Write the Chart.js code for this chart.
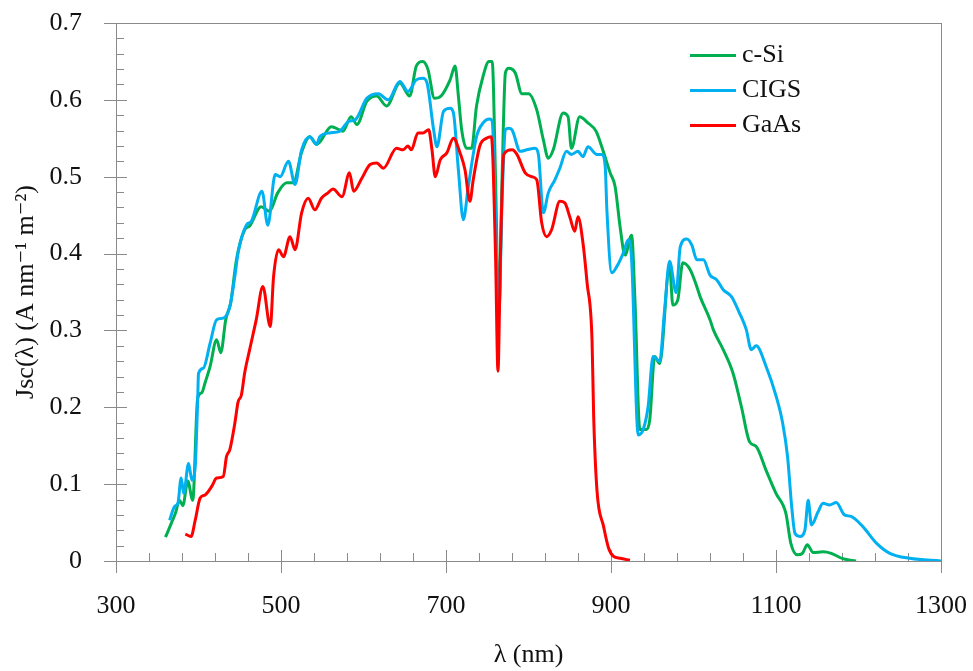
<!DOCTYPE html>
<html>
<head>
<meta charset="utf-8">
<script src="https://cdn.jsdelivr.net/npm/chart.js@4/dist/chart.umd.min.js"></script>
<style>
	body { margin: 0; background: #fff; }
	#wrap { width: 973px; height: 671px; position: relative; }
</style>
</head>
<body>
<div id="wrap"><canvas id="jsc"></canvas></div>
<script>
// wavelength (nm) / Jsc (A nm-1 m-2)
var siWl = [360,367,372,377,381,387,393,399,404,408,414,422,427,433,439,446,456,462,476,486,496,507,515,525,535,543,547,561,571,575,585,592,604,616,628,644,656,664,672,678,686,694,705,711,715,719,725,731,737,745,752,756,760,764,768,772,776,784,792,800,810,818,824,830,842,848,852,862,872,882,890,899,905,911,917,925,929,935,943,947,953,959,971,975,981,987,996,1004,1008,1020,1024,1036,1048,1058,1068,1076,1088,1100,1112,1118,1126,1132,1138,1145,1157,1167,1181,1197];
var siJsc = [0.031,0.049,0.062,0.079,0.072,0.104,0.079,0.212,0.219,0.232,0.253,0.288,0.271,0.314,0.336,0.392,0.431,0.436,0.461,0.455,0.479,0.492,0.492,0.532,0.552,0.542,0.545,0.565,0.561,0.559,0.578,0.568,0.598,0.605,0.592,0.622,0.605,0.644,0.650,0.640,0.602,0.605,0.626,0.644,0.605,0.561,0.537,0.537,0.592,0.631,0.650,0.650,0.50,0.32,0.50,0.635,0.641,0.635,0.608,0.608,0.587,0.548,0.524,0.535,0.583,0.578,0.537,0.578,0.570,0.559,0.535,0.505,0.487,0.435,0.398,0.424,0.340,0.171,0.171,0.184,0.266,0.257,0.383,0.333,0.340,0.388,0.379,0.357,0.344,0.314,0.301,0.275,0.244,0.201,0.155,0.149,0.118,0.088,0.062,0.023,0.008,0.010,0.021,0.011,0.012,0.010,0.003,0.0];

var cigsWl = [365,371,375,379,382,388,392,396,399,400,406,414,422,430,438,444,448,458,464,477,484,493,499,509,517,525,535,543,547,559,571,582,590,604,618,630,644,654,664,672,677,685,689,697,705,709,715,721,727,737,745,753,756,760,764,768,772,776,780,790,798,808,812,818,824,832,838,846,852,860,866,872,883,889,893,895,901,907,915,921,925,933,939,945,951,959,965,971,979,984,992,998,1004,1012,1020,1028,1036,1046,1056,1064,1070,1076,1088,1100,1108,1114,1119,1123,1129,1135,1139,1143,1151,1157,1165,1173,1183,1191,1205,1222,1238,1262,1300];
var cigsJsc = [0.053,0.071,0.075,0.108,0.088,0.127,0.105,0.123,0.21,0.244,0.251,0.283,0.314,0.316,0.331,0.370,0.401,0.437,0.442,0.481,0.437,0.503,0.500,0.520,0.490,0.535,0.552,0.542,0.552,0.557,0.559,0.572,0.574,0.602,0.608,0.600,0.624,0.611,0.626,0.628,0.622,0.561,0.539,0.585,0.589,0.583,0.509,0.444,0.487,0.552,0.570,0.575,0.572,0.45,0.32,0.47,0.561,0.563,0.561,0.533,0.535,0.537,0.529,0.453,0.479,0.496,0.511,0.533,0.529,0.533,0.526,0.539,0.529,0.529,0.513,0.457,0.375,0.383,0.401,0.418,0.392,0.164,0.171,0.201,0.266,0.260,0.327,0.390,0.349,0.409,0.419,0.411,0.392,0.392,0.372,0.366,0.353,0.344,0.322,0.301,0.275,0.280,0.253,0.215,0.180,0.136,0.071,0.036,0.032,0.040,0.079,0.047,0.064,0.075,0.073,0.076,0.060,0.058,0.045,0.023,0.010,0.0035,0.0];

var gaasWl = [384,391,396,402,408,416,422,430,434,438,444,448,452,456,462,470,478,487,491,497,503,511,517,525,533,541,549,557,563,574,583,588,598,608,616,624,640,648,654,658,666,672,679,683,687,693,701,709,717,723,729,733,741,749,755,760,763,766,770,780,786,796,804,810,816,822,828,838,844,850,856,860,866,871,877,879,883,891,897,903,911,923];
var gaasJsc = [0.035,0.032,0.053,0.082,0.086,0.097,0.108,0.110,0.136,0.145,0.179,0.207,0.216,0.245,0.275,0.314,0.357,0.305,0.370,0.405,0.396,0.422,0.405,0.453,0.472,0.457,0.472,0.479,0.484,0.474,0.505,0.481,0.498,0.516,0.518,0.511,0.537,0.535,0.540,0.535,0.557,0.557,0.561,0.535,0.500,0.522,0.531,0.550,0.531,0.509,0.468,0.496,0.540,0.550,0.552,0.40,0.247,0.40,0.529,0.535,0.529,0.505,0.500,0.496,0.440,0.422,0.431,0.468,0.466,0.448,0.429,0.448,0.414,0.362,0.288,0.188,0.092,0.045,0.017,0.006,0.0035,0.001];

var seriesNames = ["c-Si", "CIGS", "GaAs"];
var seriesColors = ["#00B050", "#00B0F0", "#FF0000"];

var xMin = 300, xMax = 1300, xStep = 40, xMajor = 200;
var yMin = 0, yMax = 0.7, yStep = 0.02, yMajor = 0.1;

var serif = "'Liberation Serif', 'DejaVu Serif', serif";
var axisGrey = "#8a8a8a";

function pts(xs, ys) {
	return xs.map((x, i) => ({x: x, y: ys[i]}));
}

function isMajorX(v) { return Math.abs((v - xMin) % xMajor) < 1e-6; }
function isMajorY(v) { var r = v / yMajor; return Math.abs(r - Math.round(r)) < 1e-6; }

// frame, tick marks (major cross the axis, minor inside) and legend
var frameTicks = {
	id: "frameTicks",
	beforeDatasetsDraw: function(chart) {
		var ctx = chart.ctx, a = chart.chartArea;
		ctx.save();
		ctx.strokeStyle = axisGrey;
		ctx.lineWidth = 1;
		ctx.strokeRect(a.left + 0.5, a.top + 0.5, a.right - a.left, a.bottom - a.top);
		ctx.beginPath();
		chart.scales.x.ticks.forEach(t => {
			var px = Math.round(chart.scales.x.getPixelForValue(t.value)) + 0.5;
			var maj = isMajorX(t.value);
			ctx.moveTo(px, a.bottom - (maj ? 11 : 8));
			ctx.lineTo(px, a.bottom + (maj ? 12 : 0));
		});
		chart.scales.y.ticks.forEach(t => {
			var py = Math.round(chart.scales.y.getPixelForValue(t.value)) + 0.5;
			var maj = isMajorY(t.value);
			ctx.moveTo(a.left - (maj ? 12 : 0), py);
			ctx.lineTo(a.left + (maj ? 11 : 8), py);
		});
		ctx.stroke();
		ctx.restore();
	},
	afterDraw: function(chart) {
		var ctx = chart.ctx, a = chart.chartArea;
		ctx.save();
		ctx.font = "26px " + serif;
		ctx.textBaseline = "middle";
		ctx.fillStyle = "#111";
		chart.data.datasets.forEach((ds, i) => {
			var y = a.top + 32.5 + i * 35;
			var x0 = a.right - 251;
			ctx.strokeStyle = ds.borderColor;
			ctx.lineWidth = 3;
			ctx.beginPath();
			ctx.moveTo(x0, y);
			ctx.lineTo(x0 + 46, y);
			ctx.stroke();
			ctx.fillText(ds.label, x0 + 52, y);
		});
		ctx.restore();
	}
};

var ctx = document.getElementById("jsc").getContext("2d");
var allPts = [pts(siWl, siJsc), pts(cigsWl, cigsJsc), pts(gaasWl, gaasJsc)];

var chart = new Chart(ctx, {
	type: "line",
	data: {
		datasets: seriesNames.map((n, i) => ({
			label: n,
			data: allPts[i],
			borderColor: seriesColors[i],
			backgroundColor: seriesColors[i],
			borderWidth: 3,
			pointRadius: 0,
			fill: false,
			cubicInterpolationMode: "monotone",
			order: 3 - i
		}))
	},
	options: {
		responsive: true,
		maintainAspectRatio: false,
		animation: false,
		layout: { padding: { top: 23, right: 32, left: 0, bottom: 0 } },
		plugins: { legend: { display: false }, tooltip: { enabled: false } },
		scales: {
			x: {
				type: "linear",
				min: xMin, max: xMax,
				grid: { display: false, drawTicks: false },
				border: { display: false },
				ticks: {
					stepSize: xStep, autoSkip: false, maxRotation: 0, padding: 30,
					color: "#111", font: { family: serif, size: 26 },
					callback: v => isMajorX(v) ? String(v) : ""
				},
				title: {
					display: true, text: "λ (nm)", color: "#111",
					font: { family: serif, size: 26 }, padding: { top: 0, bottom: 0 }
				},
				afterFit: s => { s.height = 110; s.paddingLeft = 0; s.paddingRight = 0; }
			},
			y: {
				min: yMin, max: yMax,
				grid: { display: false, drawTicks: false },
				border: { display: false },
				ticks: {
					stepSize: yStep, autoSkip: false, padding: 34,
					color: "#111", font: { family: serif, size: 26 },
					callback: v => isMajorY(v) ? String(Number(v.toFixed(1))) : ""
				},
				title: {
					display: true, text: "Jsc(λ) (A nm⁻¹ m⁻²)", color: "#111",
					font: { family: serif, size: 26 }, padding: { top: 11, bottom: 0 }
				},
				afterFit: s => { s.width = 116; s.paddingTop = 0; s.paddingBottom = 0; }
			}
		}
	},
	plugins: [frameTicks]
});
</script>
</body>
</html>
